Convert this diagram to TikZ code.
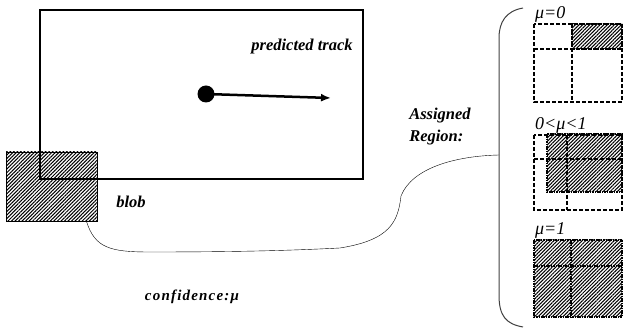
\documentclass[tikz,border=0pt]{standalone}
\usepackage{fontspec}
\setmainfont{Liberation Serif}
\usepackage{tikz}
\usetikzlibrary{arrows.meta, positioning, patterns.meta}

\tikzset{
  hatch/.style={pattern={Lines[angle=45,distance=2.5pt,line width=1.05pt]}},
  cellline/.style={line width=1.6pt, dash pattern=on 4pt off 2pt},
  hatchline/.style={line width=1.8pt, dash pattern=on 1.6pt off 0.8pt},
  lbl/.style={font=\fontsize{16.5}{20}\selectfont\bfseries\itshape, inner sep=0pt},
  mulbl/.style={font=\fontsize{18}{20}\selectfont\itshape, inner sep=0pt, anchor=west},
}

\begin{document}
\begin{tikzpicture}[x=1pt, y=-1pt]
  \useasboundingbox (0,0) rectangle (624,328);

  % blob and frame
  \node[draw, thin, hatch, inner sep=0pt, minimum width=91pt, minimum height=69pt] (blob) at (51.5,186.5) {};
  \node[draw, line width=2.6pt, inner sep=0pt, minimum width=323pt, minimum height=169pt] (frame) at (201.5,94.5) {};

  % track
  \node[circle, fill, inner sep=0pt, minimum size=17pt] (dot) at (206,94) {};
  \coordinate (trackend) at (331,98);
  \draw[-{Latex[length=10pt,width=8pt]}, line width=2.5pt] (dot.center) -- (trackend);

  \node[lbl] (track) at (302,47) {predicted track};
  \node[lbl] (bloblbl) at (131,202) {blob};
  \node[lbl, font=\fontsize{15}{17}\selectfont\bfseries\itshape\addfontfeatures{LetterSpace=8}] (conf) at (192,297) {confidence:μ};
  \node[lbl, font=\fontsize{16.5}{22}\selectfont\bfseries\itshape, align=left] (assigned) at (440,127) {Assigned\\Region:};

  % brace
  \coordinate (brace) at (499,155);
  \draw[line width=1pt, black!75] (523,8) .. controls (506,11) and (499,22) .. (499,38)
    -- (499,295) .. controls (499,316) and (506,324) .. (523,327);

  % link blob -> region
  \draw[thin] ([xshift=-11pt]blob.south east) .. controls (95,248) and (110,252) .. (150,252)
    .. controls (250,252) and (300,250) .. (340,248)
    .. controls (390,240) and (398,222) .. (401,196)
    .. controls (412,168) and (455,156) .. (brace);

  % mu = 0
  \node[mulbl] (mu0) at (535,14) {μ=0};
  \fill[hatch] (572,24) rectangle (622,49);
  \draw[cellline] (534,24) rectangle (622,102);
  \draw[cellline] (572,24) -- (572,102);
  \draw[cellline] (534,49) -- (622,49);
  \draw[hatchline] (572,24) rectangle (622,49);

  % 0 < mu < 1
  \node[mulbl] (mumid) at (535,125) {0<μ<1};
  \fill[hatch] (547,134) rectangle (622,192);
  \draw[cellline] (534,135) rectangle (622,210);
  \draw[cellline] (567,135) -- (567,210);
  \draw[cellline] (534,159) -- (622,159);
  \draw[hatchline] (547,134) rectangle (622,192);

  % mu = 1
  \node[mulbl] (mu1) at (535,230) {μ=1};
  \fill[hatch] (534,240) rectangle (622,317);
  \draw[hatchline] (534,240) rectangle (622,317);
  \draw[hatchline] (571,240) -- (571,317);
  \draw[hatchline] (534,266) -- (622,266);
\end{tikzpicture}
\end{document}
